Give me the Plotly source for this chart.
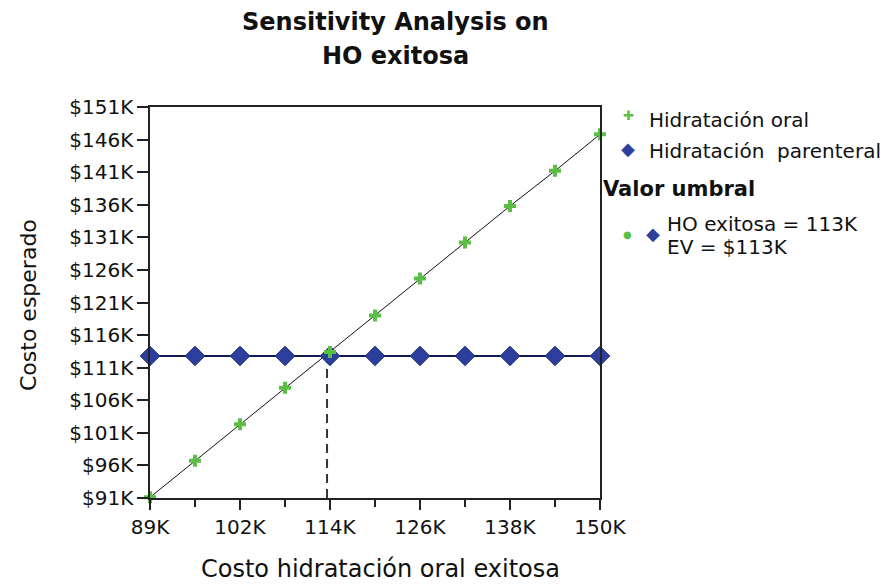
import plotly.graph_objects as go

# ---- data ----
costo_ho = [89.0, 95.1, 101.2, 107.3, 113.4, 119.5, 125.6, 131.7, 137.8, 143.9, 150.0]
hidratacion_oral = [91.1, 96.7, 102.3, 107.9, 113.4, 119.0, 124.7, 130.2, 135.8, 141.2, 146.8]
hidratacion_parenteral = [112.8] * 11
umbral_x = 113.0
umbral_y = 112.8

x_tickvals = [89.0, 101.2, 113.4, 125.6, 137.8, 150.0]
x_ticktext = ["89K", "102K", "114K", "126K", "138K", "150K"]
y_tickvals = [91, 96, 101, 106, 111, 116, 121, 126, 131, 136, 141, 146, 151]
y_ticktext = ["$%dK" % v for v in y_tickvals]

GREEN = "#5cbf45"
BLUE = "#2d3f9c"
FONT = "DejaVu Sans, sans-serif"
TXT = "#111111"

# plot area in pixels
L, R, T, B = 150, 600, 107, 498
W, H = R - L, B - T


def px_x(x):
    return (x - L) / W


def px_y(y):
    return (B - y) / H


fig = go.Figure()

# threshold dashed line
fig.add_trace(go.Scatter(x=[umbral_x, umbral_x], y=[y_tickvals[0], umbral_y], mode="lines",
                         line=dict(color="#333333", width=2, dash="9px,6px"), showlegend=False,
                         hoverinfo="skip"))
# oral line
fig.add_trace(go.Scatter(x=costo_ho, y=hidratacion_oral, mode="lines",
                         line=dict(color="#111111", width=1), showlegend=False))
# parenteral line
fig.add_trace(go.Scatter(x=costo_ho, y=hidratacion_parenteral, mode="lines",
                         line=dict(color="#141c55", width=2), showlegend=False))
# parenteral markers
fig.add_trace(go.Scatter(x=costo_ho, y=hidratacion_parenteral, mode="markers",
                         name="Hidratación  parenteral", showlegend=False,
                         marker=dict(symbol="diamond", size=15, color=BLUE,
                                     line=dict(color="#1c2a78", width=1)),
                         cliponaxis=False))
# oral markers
fig.add_trace(go.Scatter(x=costo_ho, y=hidratacion_oral, mode="markers",
                         name="Hidratación oral", showlegend=False,
                         marker=dict(symbol="cross", size=10, color=GREEN,
                                     line=dict(width=0)),
                         cliponaxis=False))

fig.update_layout(
    width=885, height=585,
    paper_bgcolor="white", plot_bgcolor="white",
    margin=dict(l=L, r=885 - R, t=T, b=585 - B),
    font=dict(family=FONT, color=TXT),
    showlegend=False,
    xaxis=dict(range=[89, 150], tickvals=x_tickvals, ticktext=x_ticktext,
               showgrid=False, zeroline=False, showline=True, linecolor="#222222",
               linewidth=1.5, mirror=True, ticks="outside", ticklen=10, tickwidth=1.5,
               tickcolor="#222222", tickfont=dict(size=20, color=TXT), automargin=False,
               minor=dict(tickvals=costo_ho, ticks="outside", ticklen=7, tickwidth=1.5,
                          tickcolor="#222222", showgrid=False)),
    yaxis=dict(range=[91, 151], tickvals=y_tickvals, ticktext=y_ticktext,
               showgrid=False, zeroline=False, showline=True, linecolor="#222222",
               linewidth=1.5, mirror=True, ticks="outside", ticklen=11, tickwidth=1.5,
               tickcolor="#222222", tickfont=dict(size=20, color=TXT), automargin=False),
)


def note(text, x, y, size, color=TXT, anchor="left", **kw):
    fig.add_annotation(text=text, xref="paper", yref="paper", x=px_x(x), y=px_y(y),
                       xanchor=anchor, yanchor="middle", showarrow=False,
                       font=dict(size=size, family=FONT, color=color), **kw)


# chart title
note("<b>Sensitivity Analysis on</b>", 395, 22, 24, anchor="center")
note("<b>HO exitosa</b>", 395, 56, 24, anchor="center")

# axis titles
note("Costo hidratación oral exitosa", 380, 569, 24, anchor="center")
note("Costo esperado", 28, 305, 22, anchor="center", textangle=-90)

# legend
note("✚", 628, 116, 13, color=GREEN, anchor="center")
note("Hidratación oral", 647, 120, 20)
note("◆", 628, 148, 18, color=BLUE, anchor="center")
note("Hidratación  parenteral", 647, 151, 20)

# "Valor umbral" block
note("<b>Valor umbral</b>", 601, 189, 21)
note("●", 627, 234, 10, color=GREEN, anchor="center")
note("◆", 653, 233, 18, color=BLUE, anchor="center")
note("HO exitosa = 113K", 665, 224, 20)
note("EV = $113K", 665, 247, 20)

fig.write_html("out.html", config={"displayModeBar": False},
               post_script="document.body.style.margin='0px';")
